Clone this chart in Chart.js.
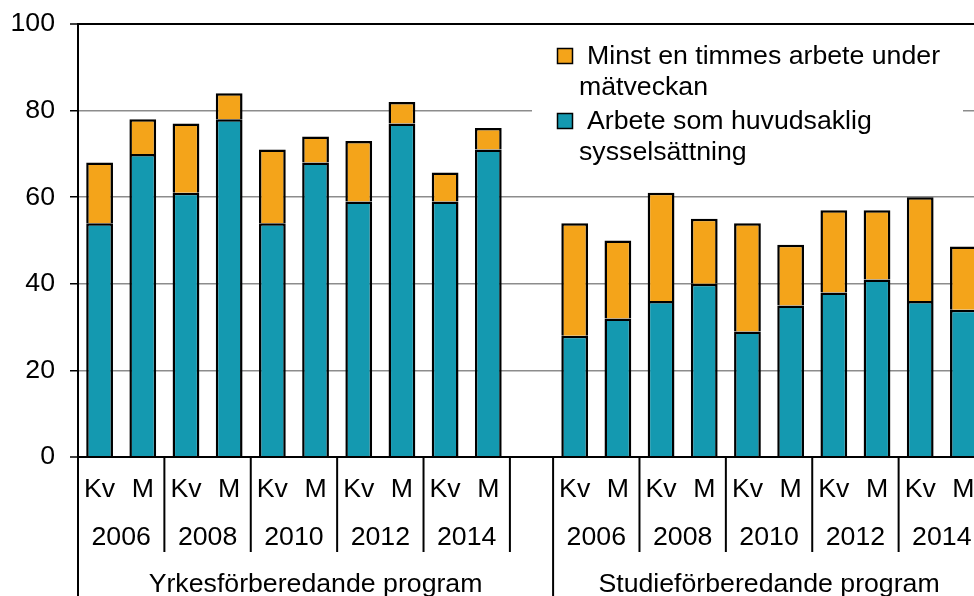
<!DOCTYPE html>
<html>
<head>
<meta charset="utf-8">
<script src="https://cdn.jsdelivr.net/npm/chart.js@4/dist/chart.umd.min.js"></script>
<style>
  html, body { margin: 0; padding: 0; background: #fff; overflow: hidden; }
  #wrap { width: 990px; height: 596px; }
</style>
</head>
<body>
<div id="wrap"><canvas id="chart" width="990" height="596"></canvas></div>
<script>
const sexes = ['Kv', 'M'];
const years = ['2006', '2008', '2010', '2012', '2014'];
const programs = ['Yrkesförberedande program', 'Studieförberedande program'];

// andel i arbete, per program (Kv/M per år)
const huvudYrkes = [54, 70, 61, 78, 54, 68, 59, 77, 59, 71];
const huvudStudie = [28, 32, 36, 40, 29, 35, 38, 41, 36, 34];
const minstYrkes = [14, 8, 16, 6, 17, 6, 14, 5, 6.7, 5];
const minstStudie = [26, 18, 25, 15, 25, 14, 19, 16, 24, 14.6];

const seriesNames = ['Arbete som huvudsaklig sysselsättning', 'Minst en timmes arbete under mätveckan'];
const yTicks = [0, 20, 40, 60, 80, 100];

const FONT = '"Liberation Sans", Arial, sans-serif';
const FS = 26.7;
const TEAL = '#1499b0';
const ORANGE = '#f4a41a';

// one empty slot between the two programs
const labels = [];
programs.forEach((p, gi) => {
  years.forEach(y => sexes.forEach(s => labels.push([s, y, p])));
  if (gi === 0) labels.push(['', '', '']);
});
const huvud = [...huvudYrkes, null, ...huvudStudie];
const minst = [...minstYrkes, null, ...minstStudie];

const axisLabels = {
  id: 'axisLabels',
  afterDraw(chart) {
    const { ctx, chartArea } = chart;
    const x = chart.scales.x;
    const slot = x.getPixelForValue(1) - x.getPixelForValue(0);
    const bottom = chartArea.bottom;
    const groupSize = years.length * 2;
    ctx.save();
    ctx.fillStyle = '#000';
    ctx.strokeStyle = '#000';
    ctx.lineWidth = 2;
    ctx.font = FS + 'px ' + FONT;
    ctx.textAlign = 'center';
    ctx.textBaseline = 'alphabetic';
    labels.forEach((l, i) => {
      if (!l[0]) return;
      ctx.fillText(l[0], x.getPixelForValue(i), bottom + 40);
    });
    programs.forEach((p, gi) => {
      const start = gi * (groupSize + 1);
      const left = x.getPixelForValue(start) - slot / 2;
      // long line at start of each program
      ctx.beginPath();
      ctx.moveTo(left, bottom);
      ctx.lineTo(left, chart.height);
      ctx.stroke();
      years.forEach((y, yi) => {
        const l0 = left + yi * 2 * slot;
        ctx.fillText(y, l0 + slot, bottom + 88);
        if (yi > 0) {
          ctx.beginPath();
          ctx.moveTo(l0, bottom);
          ctx.lineTo(l0, bottom + 95);
          ctx.stroke();
        }
      });
      const end = left + groupSize * slot;
      ctx.beginPath();
      ctx.moveTo(end, bottom);
      ctx.lineTo(end, bottom + 95);
      ctx.stroke();
      // program name centred up to the next long line
      const span = gi < programs.length - 1 ? groupSize + 1 : groupSize;
      ctx.fillText(p, left + span * slot / 2, bottom + 135);
    });
    ctx.restore();
  }
};

const boxLegend = {
  id: 'boxLegend',
  afterDraw(chart) {
    const { ctx } = chart;
    ctx.save();
    ctx.fillStyle = '#fff';
    ctx.fillRect(532, 27, 431, 163);
    ctx.font = FS + 'px ' + FONT;
    ctx.textAlign = 'left';
    ctx.textBaseline = 'alphabetic';
    const items = [chart.data.datasets[1], chart.data.datasets[0]];
    let base = 64;
    items.forEach(ds => {
      ctx.fillStyle = ds.backgroundColor;
      ctx.fillRect(557.5, base - 15.5, 15, 15);
      ctx.strokeStyle = '#000';
      ctx.lineWidth = 1.5;
      ctx.strokeRect(557.5, base - 15.5, 15, 15);
      // wrap words
      const words = ds.label.split(' ');
      const lines = [];
      let cur = '';
      words.forEach(w => {
        const t = cur ? cur + ' ' + w : w;
        if (ctx.measureText(t).width > 372 && cur) { lines.push(cur); cur = w; }
        else cur = t;
      });
      lines.push(cur);
      ctx.fillStyle = '#000';
      lines.forEach((ln, li) => {
        ctx.fillText(ln, li === 0 ? 587 : 579, base);
        base += 31;
      });
      base += 3;
    });
    ctx.restore();
  }
};

new Chart(document.getElementById('chart'), {
  type: 'bar',
  data: {
    labels: labels,
    datasets: [
      { label: seriesNames[0], data: huvud, backgroundColor: TEAL, borderColor: '#000', borderWidth: 2.5 },
      { label: seriesNames[1], data: minst, backgroundColor: ORANGE, borderColor: '#000', borderWidth: 2.5 }
    ]
  },
  options: {
    responsive: false,
    animation: false,
    devicePixelRatio: 1,
    categoryPercentage: 1,
    barPercentage: 0.62,
    layout: { padding: { top: 24, right: 5, left: 0, bottom: 0 } },
    plugins: { legend: { display: false }, tooltip: { enabled: false } },
    scales: {
      x: {
        stacked: true,
        grid: { display: false },
        ticks: { display: false },
        border: { display: true, color: '#000', width: 2 },
        afterFit: s => { s.height = 139; }
      },
      y: {
        stacked: true,
        min: 0,
        max: 100,
        afterBuildTicks: s => { s.ticks = yTicks.map(v => ({ value: v })); },
        ticks: { color: '#000', font: { family: FONT, size: FS }, padding: 15 },
        grid: {
          color: c => (c.tick && (c.tick.value === 0 || c.tick.value === 100)) ? '#000' : '#8c8c8c',
          lineWidth: c => (c.tick && (c.tick.value === 0 || c.tick.value === 100)) ? 2 : 1.5,
          tickColor: '#000',
          tickWidth: 1.5,
          tickLength: 8
        },
        border: { color: '#000', width: 2 },
        afterFit: s => { s.width = 78; s.paddingTop = 0; s.paddingBottom = 0; }
      }
    }
  },
  plugins: [axisLabels, boxLegend]
});
</script>
</body>
</html>
